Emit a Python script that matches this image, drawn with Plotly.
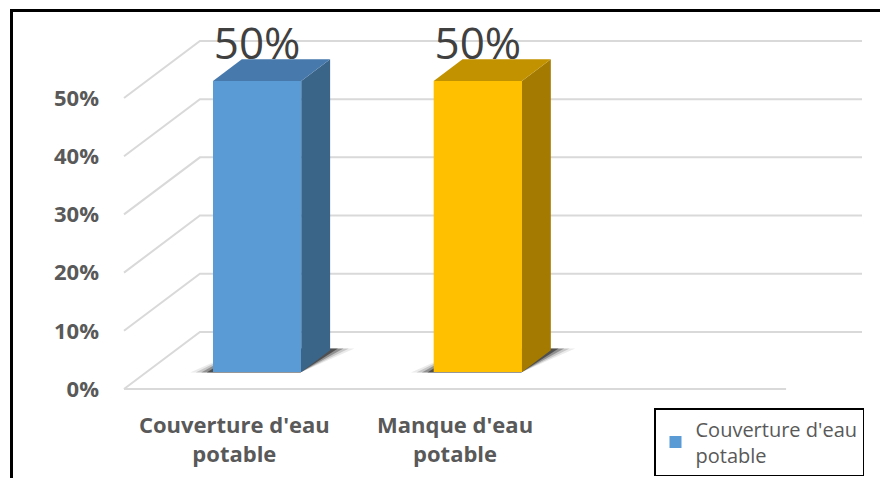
import plotly.graph_objects as go

# data
categories = ["Couverture d'eau<br>potable", "Manque d'eau<br>potable", ""]
values = [50, 50]  # percent
value_labels = ["50%", "50%"]
tick_values = [0, 10, 20, 30, 40, 50]
tick_labels = ["0%", "10%", "20%", "30%", "40%", "50%"]
legend_name = "Couverture d'eau<br>potable"

front_colors = ["#5b9bd5", "#ffc000"]
top_colors = ["#4779ad", "#c29200"]
side_colors = ["#3a6589", "#a47b00"]

# fake 3D (Excel style): depth projected in axis units
DEPTH_X = 0.344   # category units for the whole floor depth
DEPTH_Y = 9.8     # percent units for the whole floor depth
BAR_W = 0.40
D_FRONT, D_BACK = 0.30, 0.68
N_CAT = len(categories)

# page body has an 8px margin, so the figure is shifted by OFF
OFF = 8
W, H = 880, 470
ML, MR, MT, MB = 100, 0, 12, 83


def proj(u, v, d):
    return u + d * DEPTH_X, v + d * DEPTH_Y


def poly(points):
    xs, ys = zip(*[proj(*p) for p in points])
    return list(xs) + [xs[0]], list(ys) + [ys[0]]


fig = go.Figure()

# gridlines: slanted side wall + back wall, floor front edge (bottom layer)
gx, gy = [], []
for v in tick_values:
    x0, y0 = proj(0, v, 0)
    x1, y1 = proj(0, v, 1)
    x2, y2 = proj(N_CAT, v, 1)
    gx += [x0, x1, x2, None]
    gy += [y0, y1, y2, None]
fx0, fy0 = proj(0, 0, 0)
fx1, fy1 = proj(N_CAT, 0, 0)
gx += [fx0, fx1, None]
gy += [fy0, fy1, None]
fig.add_trace(go.Scatter(x=gx, y=gy, mode="lines", hoverinfo="skip",
                         line=dict(color="#d9d9d9", width=2), showlegend=False))

for i, val in enumerate(values):
    u = i + 0.5
    l, r = u - BAR_W / 2, u + BAR_W / 2
    # soft shadow on the floor
    for spread, alpha in [(0.10, 0.08), (0.075, 0.15), (0.05, 0.28), (0.025, 0.45)]:
        sx, sy = poly([(l - spread, 0, D_FRONT - 0.01), (r, 0, D_FRONT - 0.01),
                       (r + spread, 0, D_BACK + 0.03), (l, 0, D_BACK + 0.03)])
        fig.add_trace(go.Scatter(x=sx, y=sy, fill="toself", mode="lines",
                                 line=dict(width=0), hoverinfo="skip",
                                 fillcolor=f"rgba(0,0,0,{alpha})", showlegend=False))

# bars on an overlaid subplot so they sit above gridlines
for i, val in enumerate(values):
    u = i + 0.5
    l, r = u - BAR_W / 2, u + BAR_W / 2

    bx, by = proj(u, 0, D_FRONT)
    fig.add_trace(go.Bar(x=[bx], y=[val], base=[by], width=BAR_W,
                         xaxis="x2", yaxis="y2",
                         marker=dict(color=front_colors[i], line=dict(width=0)),
                         name=legend_name, showlegend=(i == 0)))

    sx, sy = poly([(r, 0, D_FRONT), (r, val, D_FRONT), (r, val, D_BACK), (r, 0, D_BACK)])
    fig.add_trace(go.Scatter(x=sx, y=sy, fill="toself", mode="lines",
                             xaxis="x2", yaxis="y2",
                             line=dict(width=0), fillcolor=side_colors[i],
                             hoverinfo="skip", showlegend=False))
    tx, ty = poly([(l, val, D_FRONT), (r, val, D_FRONT), (r, val, D_BACK), (l, val, D_BACK)])
    fig.add_trace(go.Scatter(x=tx, y=ty, fill="toself", mode="lines",
                             xaxis="x2", yaxis="y2",
                             line=dict(width=0), fillcolor=top_colors[i],
                             hoverinfo="skip", showlegend=False))

    # value label above the top face
    lx, _ = proj(u, val, D_FRONT)
    _, ly = proj(u, val, (D_FRONT + D_BACK) / 2)
    fig.add_trace(go.Scatter(x=[lx], y=[ly], mode="text", text=[value_labels[i]],
                             xaxis="x2", yaxis="y2",
                             textposition="top center", cliponaxis=False,
                             textfont=dict(family="Open Sans", size=44, color="#404040"),
                             hoverinfo="skip", showlegend=False))

# axis ranges: floor front edge at 124..786 px, baseline at y=389 px (page coords)
PX_CAT = 220.7
PX_PCT = 5.82
left, right = ML + OFF, W + OFF - MR
top, bottom = MT + OFF, H + OFF - MB
x_range = [(left - 124) / PX_CAT, (right - 124) / PX_CAT]
y_range = [(389 - bottom) / PX_PCT, (389 - top) / PX_PCT]


def px_x(px):
    return (px - left) / (right - left)


def px_y(py):
    return (bottom - py) / (bottom - top)


tick_font = dict(family="Open Sans", size=22, color="#595959", weight="bold")
fig.update_layout(
    width=W, height=H,
    margin=dict(l=ML, r=MR, t=MT, b=MB),
    paper_bgcolor="white", plot_bgcolor="white",
    barmode="overlay",
    font=dict(family="Open Sans", color="#595959"),
    xaxis=dict(range=x_range, showgrid=False, zeroline=False, showline=False,
               tickmode="array", tickvals=[i + 0.5 for i in range(N_CAT)],
               ticktext=categories, ticks="", ticklabelstandoff=15, tickfont=tick_font),
    yaxis=dict(range=y_range, showgrid=False, zeroline=False, showline=False,
               tickmode="array", tickvals=tick_values, ticktext=tick_labels,
               ticks="", ticklabelstandoff=8, tickfont=tick_font),
    xaxis2=dict(range=x_range, overlaying="x", anchor="y2", visible=False),
    yaxis2=dict(range=y_range, overlaying="y", anchor="x2", visible=False),
    legend=dict(x=px_x(654), y=px_y(408), xanchor="left", yanchor="top",
                bordercolor="black", borderwidth=1.5, bgcolor="white",
                font=dict(size=20, color="#595959")),
    shapes=[dict(type="rect", xref="paper", yref="paper",
                 x0=px_x(11.5), x1=px_x(900), y0=px_y(600), y1=px_y(10.5),
                 line=dict(color="black", width=3))],
)

fig.write_html("out.html")
